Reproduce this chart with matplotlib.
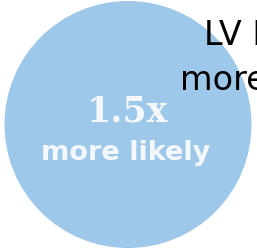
import matplotlib
matplotlib.use('Agg')
import matplotlib.pyplot as plt
from matplotlib.patches import Circle

# 数据
ratio_value = 1.5
ratio_label = f'{ratio_value}x'
sub_label = 'more likely'
side_title = 'LV H'
side_sub = 'more'

C_BUBBLE = '#9ec8ea'
C_WHITE = '#f4f8fc'

fig = plt.figure(figsize=(2.57, 2.53), dpi=100)
ax = fig.add_axes([0, 0, 1, 1])
ax.set_xlim(0, 257)
ax.set_ylim(253, 0)
ax.axis('off')

ax.add_patch(Circle((128, 125.5), 123.5, facecolor=C_BUBBLE, edgecolor='none'))

ax.text(127, 122, ratio_label, ha='center', va='baseline', color=C_WHITE,
        fontsize=25, fontweight='bold', family='DejaVu Serif')
ax.text(126, 160, sub_label, ha='center', va='baseline', color=C_WHITE,
        fontsize=19.5, fontweight='bold', family='DejaVu Sans')

# 右上角被裁切的标题（参考图中即被裁切）
ax.text(204, 45, side_title, ha='left', va='baseline', color='black',
        fontsize=24, family='DejaVu Sans', clip_on=False)
ax.text(180, 90, side_sub, ha='left', va='baseline', color='black',
        fontsize=24, family='DejaVu Sans', clip_on=False)

fig.savefig('out.png', dpi=100, facecolor='white')
